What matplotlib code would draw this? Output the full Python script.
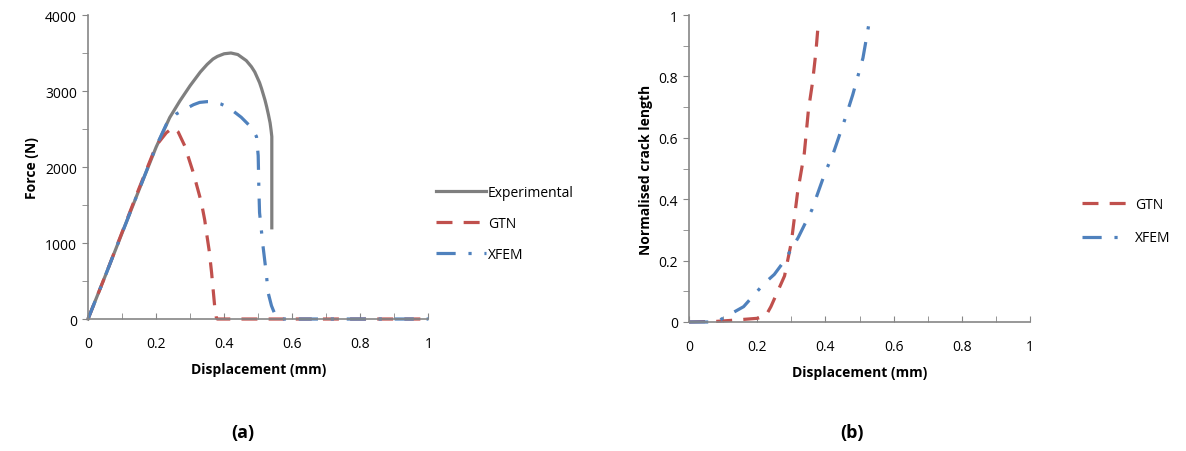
import matplotlib
matplotlib.use("Agg")
import matplotlib.pyplot as plt
from matplotlib.ticker import MultipleLocator

plt.rcParams['font.family'] = ['Open Sans', 'DejaVu Sans']

# (a) force vs displacement
exp_x = [0, 0.05, 0.1, 0.15, 0.2, 0.24, 0.27, 0.30, 0.33, 0.35, 0.367, 0.38, 0.40,
         0.42, 0.44, 0.465, 0.48, 0.49, 0.504, 0.51, 0.52, 0.525, 0.53, 0.535,
         0.538, 0.54, 0.54]
exp_f = [0, 560, 1130, 1700, 2260, 2650, 2870, 3070, 3250, 3350, 3420, 3455, 3490,
         3500, 3480, 3400, 3320, 3250, 3110, 3030, 2880, 2790, 2690, 2580,
         2480, 2400, 1200]

gtn_x = [0, 0.05, 0.1, 0.15, 0.2, 0.23, 0.25, 0.265, 0.284, 0.309, 0.333, 0.343,
         0.348, 0.356, 0.363, 0.372, 0.377, 0.38, 1.0]
gtn_f = [0, 560, 1140, 1720, 2280, 2450, 2520, 2460, 2280, 1930, 1535, 1300,
         1140, 900, 614, 175, 20, 0, 0]

xfem_x = [0, 0.05, 0.1, 0.15, 0.2, 0.23, 0.26, 0.289, 0.31, 0.328, 0.35, 0.367,
          0.39, 0.414, 0.45, 0.48, 0.495, 0.5, 0.502, 0.504, 0.514, 0.524, 0.529,
          0.539, 0.553, 0.56, 1.0]
xfem_f = [0, 560, 1130, 1700, 2270, 2560, 2700, 2770, 2820, 2850, 2860, 2860,
          2830, 2780, 2655, 2520, 2400, 2150, 1710, 1400, 965, 590, 350,
          175, 20, 0, 0]

# (b) normalised crack length vs displacement
gtn_cx = [0, 0.08, 0.12, 0.2, 0.225, 0.24, 0.26, 0.28, 0.3, 0.318, 0.338, 0.35,
          0.362, 0.372, 0.378]
gtn_c = [0, 0.002, 0.005, 0.012, 0.02, 0.05, 0.1, 0.15, 0.26, 0.42, 0.55, 0.69,
         0.78, 0.88, 0.96]

xfem_cx = [0, 0.08, 0.12, 0.16, 0.22, 0.25, 0.28, 0.32, 0.34, 0.36, 0.40, 0.42,
           0.46, 0.48, 0.51, 0.532]
xfem_c = [0, 0, 0.025, 0.05, 0.125, 0.155, 0.2, 0.275, 0.32, 0.365, 0.49, 0.54,
          0.67, 0.74, 0.86, 1.0]

grey = '#7f7f7f'
red = '#c0504d'
blue = '#4f81bd'
spine_col = '#868686'
dash = (0, (5, 3.5))
dashdot = (0, (6, 4, 1, 4))

fig = plt.figure(figsize=(11.86, 4.52), dpi=100)
ax1 = fig.add_axes([0.0742, 0.292, 0.287, 0.6726])
ax2 = fig.add_axes([0.581, 0.2854, 0.2875, 0.6792])

ax1.plot(exp_x, exp_f, color=grey, lw=2.3, label='Experimental')
ax1.plot(gtn_x, gtn_f, color=red, lw=2.3, linestyle=dash, label='GTN')
ax1.plot(xfem_x, xfem_f, color=blue, lw=2.3, linestyle=dashdot, label='XFEM')
ax1.set_xlim(0, 1)
ax1.set_ylim(0, 4000)
ax1.yaxis.set_major_locator(MultipleLocator(1000))
ax1.yaxis.set_minor_locator(MultipleLocator(500))
ax1.set_ylabel('Force (N)', fontweight='bold', fontsize=10)

ax2.plot(gtn_cx, gtn_c, color=red, lw=2.3, linestyle=dash, label='GTN')
ax2.plot(xfem_cx, xfem_c, color=blue, lw=2.3, linestyle=dashdot, label='XFEM')
ax2.set_xlim(0, 1)
ax2.set_ylim(0, 1)
ax2.yaxis.set_major_locator(MultipleLocator(0.2))
ax2.yaxis.set_minor_locator(MultipleLocator(0.1))
ax2.set_ylabel('Normalised crack length', fontweight='bold', fontsize=10)

for ax in (ax1, ax2):
    ax.xaxis.set_major_locator(MultipleLocator(0.2))
    ax.xaxis.set_minor_locator(MultipleLocator(0.1))
    ax.xaxis.set_major_formatter(plt.FuncFormatter(lambda v, p: f'{v:g}'))
    ax.yaxis.set_major_formatter(plt.FuncFormatter(lambda v, p: f'{v:g}'))
    ax.set_xlabel('Displacement (mm)', fontweight='bold', fontsize=10, labelpad=8)
    for s in ('top', 'right'):
        ax.spines[s].set_visible(False)
    for s in ('left', 'bottom'):
        ax.spines[s].set_color(spine_col)
        ax.spines[s].set_linewidth(1.2)
    ax.tick_params(axis='both', which='both', colors=spine_col, labelcolor='black',
                   labelsize=10)
    ax.tick_params(axis='x', which='both', direction='in', length=4, pad=12)
    ax.tick_params(axis='y', which='both', direction='out', length=4, pad=4)
    for ln in ax.lines:
        ln.set_clip_on(False)

fig.legend(handles=ax1.lines, loc='center left', bbox_to_anchor=(0.357, 0.503),
           frameon=False, handlelength=3.6, handletextpad=0.15, labelspacing=1.15,
           fontsize=10)
fig.legend(handles=ax2.lines, loc='center left', bbox_to_anchor=(0.902, 0.508),
           frameon=False, handlelength=3.3, handletextpad=0.5, labelspacing=1.3,
           fontsize=10)

fig.text(0.205, 0.042, '(a)', fontweight='bold', fontsize=13, ha='center', va='center')
fig.text(0.718, 0.042, '(b)', fontweight='bold', fontsize=13, ha='center', va='center')

fig.savefig('out.png', dpi=100)
